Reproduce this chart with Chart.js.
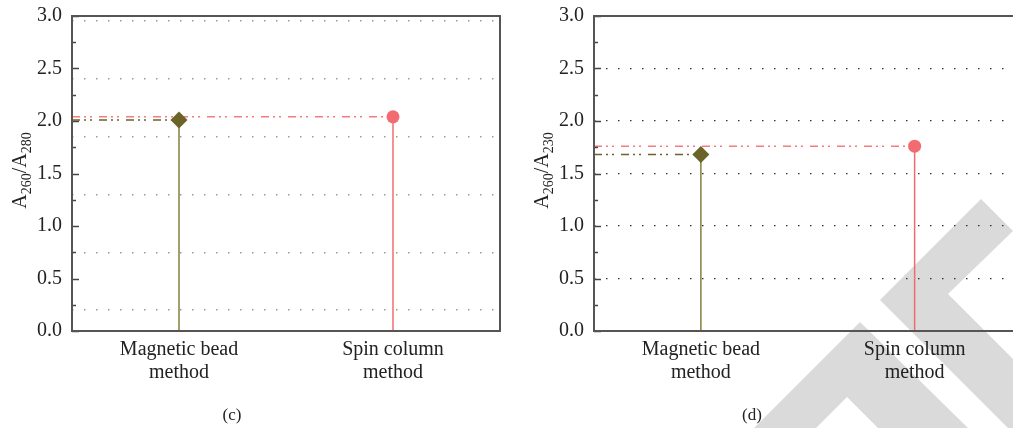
<!DOCTYPE html>
<html>
<head>
<meta charset="utf-8">
<script src="https://cdn.jsdelivr.net/npm/chart.js@4/dist/chart.umd.min.js"></script>
<style>
  html, body { margin:0; padding:0; background:#fff; overflow:hidden; width:1013px; height:428px; }
  .wrap { position:absolute; top:0; height:428px; z-index:1; }
  .cap { position:absolute; top:405px; font-family:"Liberation Serif", serif; font-size:17px; color:#222; transform:translateX(-50%); z-index:1; }
  svg.wm { position:absolute; left:0; top:0; z-index:0; }
</style>
</head>
<body>
<svg class="wm" width="1013" height="428">
  <polygon points="880,300 981,199 1013,231 948,294 1013,359 1013,428 1008,428" fill="#dadada"/>
  <polygon points="860,322 968,428 878,428 847,397 816,428 754,428" fill="#dadada"/>
</svg>
<div class="wrap" style="left:0;width:510px"><canvas id="c1" width="510" height="428"></canvas></div>
<div class="wrap" style="left:520px;width:510px"><canvas id="c2" width="510" height="428"></canvas></div>
<div class="cap" style="left:232px">(c)</div>
<div class="cap" style="left:752px">(d)</div>
<script>
// ---- data ----
const categories = [['Magnetic bead', 'method'], ['Spin column', 'method']];
const ratio260_280 = [2.01, 2.04];   // panel (c)
const ratio260_230 = [1.68, 1.76];   // panel (d)
const yTickValues = [0, 0.5, 1.0, 1.5, 2.0, 2.5, 3.0];
const gridLinesC = [0.2, 0.75, 1.3, 1.85, 2.4, 2.95];
const categoryPos = [0.5, 1.5];

const OLIVE = '#6b6428';
const OLIVE_STEM = '#857f3c';
const RED = '#f26b71';
const RED_LINE = '#f47c80';
const FONT = '"Liberation Serif", "Times New Roman", serif';

function framePlugin(titleParts) {
  return {
    id: 'frame',
    afterDraw(chart) {
      const {ctx, chartArea: a} = chart;
      const y = chart.scales.y;
      ctx.save();
      ctx.strokeStyle = '#444';
      ctx.lineWidth = 1.5;
      for (let i = 0; i <= 12; i++) {
        const v = i * 0.25;
        const py = Math.round(y.getPixelForValue(v)) + 0.5;
        const len = (i % 2 === 0) ? 7 : 4;
        ctx.beginPath();
        ctx.moveTo(a.left, py);
        ctx.lineTo(a.left + len, py);
        ctx.stroke();
      }
      ctx.strokeStyle = '#555';
      ctx.lineWidth = 2;
      ctx.strokeRect(a.left, a.top, a.right - a.left, a.bottom - a.top);
      const cy = (a.top + a.bottom) / 2 - 3;
      ctx.translate(titleParts.x, cy);
      ctx.rotate(-Math.PI / 2);
      ctx.fillStyle = '#222';
      ctx.textBaseline = 'alphabetic';
      const big = '20px ' + FONT, small = '14px ' + FONT;
      const parts = titleParts.parts;
      let w = 0;
      parts.forEach(p => { ctx.font = p.sub ? small : big; w += ctx.measureText(p.t).width; });
      let x = -w / 2;
      parts.forEach(p => {
        ctx.font = p.sub ? small : big;
        ctx.fillText(p.t, x, p.sub ? 5 : 0);
        x += ctx.measureText(p.t).width;
      });
      ctx.restore();
    }
  };
}

function makeChart(id, values, yWidth, padRight, title, gridValues, gridColor, gridWidth) {
  const datasets = [
    { data: [{x: categoryPos[0], y: 0}, {x: categoryPos[0], y: values[0]}], borderColor: OLIVE_STEM, borderWidth: 1.5, pointRadius: 0, showLine: true, order: 2 },
    { data: [{x: categoryPos[1], y: 0}, {x: categoryPos[1], y: values[1]}], borderColor: RED, borderWidth: 1.5, pointRadius: 0, showLine: true, order: 2 },
    { data: [{x: 0, y: values[0]}, {x: categoryPos[0], y: values[0]}], borderColor: OLIVE, borderWidth: 1.5, borderDash: [8, 4, 2, 4, 2, 7], pointRadius: 0, showLine: true, order: 3 },
    { data: [{x: 0, y: values[1]}, {x: categoryPos[1], y: values[1]}], borderColor: RED_LINE, borderWidth: 1.5, borderDash: [8, 4, 2, 4, 2, 7], pointRadius: 0, showLine: true, order: 3 },
    { data: [{x: categoryPos[0], y: values[0]}], pointStyle: 'rectRot', pointRadius: 8.5, backgroundColor: OLIVE, borderColor: OLIVE, borderWidth: 0, order: 0 },
    { data: [{x: categoryPos[1], y: values[1]}], pointStyle: 'circle', pointRadius: 6.5, backgroundColor: RED, borderColor: RED, borderWidth: 0, order: 0 }
  ];
  const scales = {
    x: {
      type: 'linear', min: 0, max: 2,
      grid: { display: false, drawTicks: false },
      border: { display: false },
      afterBuildTicks: s => { s.ticks = categoryPos.map(v => ({value: v})); },
      afterFit: s => { s.height = 97; s.paddingLeft = 0; s.paddingRight = 0; },
      ticks: { callback: (v, i) => categories[i], font: { family: FONT, size: 20, lineHeight: 1.15 }, color: '#222', padding: 7, maxRotation: 0, autoSkip: false }
    },
    y: {
      type: 'linear', min: 0, max: 3,
      afterBuildTicks: s => { s.ticks = yTickValues.map(v => ({value: v})); },
      afterFit: s => { s.width = yWidth; s.paddingTop = 0; s.paddingBottom = 0; },
      border: { display: false, dash: [1.5, 10.5] },
      grid: {
        display: !gridValues, drawTicks: false, lineWidth: gridWidth,
        color: c => (c.tick && (c.tick.value === 0 || c.tick.value === 3)) ? 'rgba(0,0,0,0)' : gridColor
      },
      ticks: { callback: v => v.toFixed(1), font: { family: FONT, size: 20 }, color: '#222', padding: 10 }
    }
  };
  if (gridValues) {
    scales.g = {
      type: 'linear', min: 0, max: 3, position: 'right', display: true,
      afterBuildTicks: s => { s.ticks = gridValues.map(v => ({value: v})); },
      afterFit: s => { s.width = 0; s.paddingTop = 0; s.paddingBottom = 0; },
      border: { display: false, dash: [1.5, 10.5] },
      grid: { drawTicks: false, color: gridColor, lineWidth: gridWidth },
      ticks: { display: false }
    };
  }
  return new Chart(document.getElementById(id), {
    type: 'scatter',
    data: { datasets },
    options: {
      responsive: false, animation: false,
      layout: { padding: { top: 16, right: padRight, left: 0, bottom: 0 } },
      plugins: { legend: { display: false }, tooltip: { enabled: false } },
      scales
    },
    plugins: [framePlugin(title)]
  });
}

makeChart('c1', ratio260_280, 72, 10,
  { x: 26, parts: [{t: 'A'}, {t: '260', sub: true}, {t: '/A'}, {t: '280', sub: true}] },
  gridLinesC, '#9a9a9a', 1.5);
makeChart('c2', ratio260_230, 74, 8,
  { x: 28, parts: [{t: 'A'}, {t: '260', sub: true}, {t: '/A'}, {t: '230', sub: true}] },
  null, '#333', 1.2);
</script>
</body>
</html>
